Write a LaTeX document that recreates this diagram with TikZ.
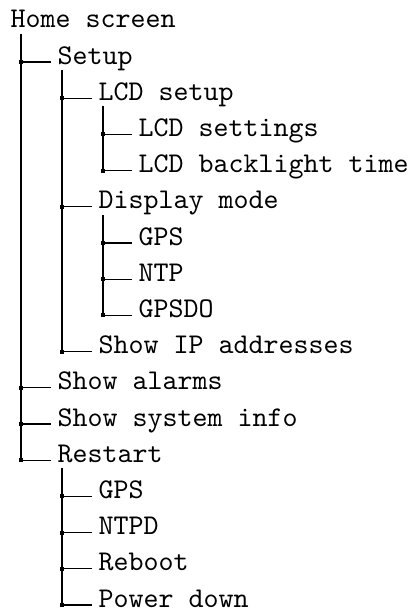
\documentclass[tikz,border=0pt]{standalone}
\usetikzlibrary{calc}

\tikzset{
  entry/.style={anchor=base west,inner sep=0pt,font=\ttfamily},
  twig/.style={line width=0.4pt},
  knot/.style={rectangle,fill,inner sep=0pt,minimum size=1.4pt,anchor=center}
}

\begin{document}
\begin{tikzpicture}[x=0.35pt,y=-0.35pt]
  \useasboundingbox (0,0) rectangle (414,610);
  % menu entries, one row every 36.2 units
  \node[entry] (home)      at (10,27.8)  {Home screen};
  \node[entry] (setup)     at (57,64)    {Setup};
  \node[entry] (lcd)       at (98,100.2) {LCD setup};
  \node[entry] (lcdset)    at (138,136.4) {LCD settings};
  \node[entry] (backlight) at (138,172.6) {LCD backlight time};
  \node[entry] (display)   at (98,208.8) {Display mode};
  \node[entry] (gps)       at (138,245)  {GPS};
  \node[entry] (ntp)       at (138,281.2) {NTP};
  \node[entry] (gpsdo)     at (138,317.4) {GPSDO};
  \node[entry] (showip)    at (98,353.6) {Show IP addresses};
  \node[entry] (alarms)    at (57,389.8) {Show alarms};
  \node[entry] (sysinfo)   at (57,426)   {Show system info};
  \node[entry] (restart)   at (57,462.2) {Restart};
  \node[entry] (rgps)      at (98,498.4) {GPS};
  \node[entry] (ntpd)      at (98,534.6) {NTPD};
  \node[entry] (reboot)    at (98,570.8) {Reboot};
  \node[entry] (power)     at (98,607)   {Power down};

  % tops of the vertical stems
  \coordinate (home-stem)    at (21,33.8);
  \coordinate (setup-stem)   at (62,70);
  \coordinate (lcd-stem)     at (103,106.2);
  \coordinate (display-stem) at (103,214.8);
  \coordinate (restart-stem) at (62,468.2);

  % branches
  \foreach \c/\p in {setup/home,alarms/home,sysinfo/home,restart/home,
                     lcd/setup,display/setup,showip/setup,
                     lcdset/lcd,backlight/lcd,
                     gps/display,ntp/display,gpsdo/display,
                     rgps/restart,ntpd/restart,reboot/restart,power/restart}
    \draw[twig] ($(\c.base west)+(-6,-2)$) -| node[knot]{} (\p-stem);
\end{tikzpicture}
\end{document}
